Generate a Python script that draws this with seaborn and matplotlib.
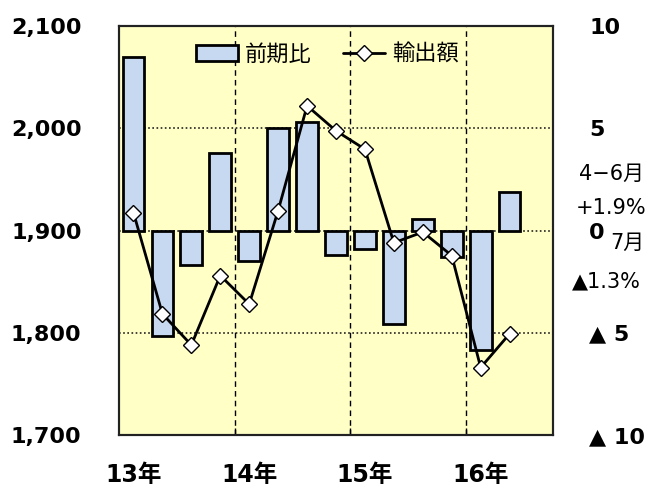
import pandas as pd
import matplotlib
matplotlib.use("Agg")
import matplotlib.pyplot as plt
import seaborn as sns
from matplotlib.lines import Line2D
from matplotlib.patches import Patch

# quarterly data, Heisei 13 Q1 .. 16 Q2
quarters = ["13Q1", "13Q2", "13Q3", "13Q4",
            "14Q1", "14Q2", "14Q3", "14Q4",
            "15Q1", "15Q2", "15Q3", "15Q4",
            "16Q1", "16Q2"]
change_pct = [8.5, -5.15, -1.7, 3.8, -1.5, 5.0, 5.3, -1.2, -0.9, -4.55, 0.55, -1.3, -5.85, 1.9]
exports = [1917.5, 1818.5, 1788, 1856, 1828, 1919.5, 2022, 1997.5, 1979.5, 1888, 1898.5, 1875.5, 1766, 1799]

year_labels = ["13年", "14年", "15年", "16年"]
left_ticks = [1700, 1800, 1900, 2000, 2100]
right_ticks = [-10, -5, 0, 5, 10]
right_tick_labels = ["▲ 10", "▲ 5", "0", "5", "10"]

sns.set_style("white")
plt.rcParams["font.family"] = ["DejaVu Sans", "Noto Sans CJK JP"]
plt.rcParams["text.color"] = "black"
plt.rcParams["xtick.color"] = "black"
plt.rcParams["ytick.color"] = "black"

df = pd.DataFrame({"quarter": quarters, "change": change_pct,
                   "pos": range(len(quarters)), "exports": exports})

fig = plt.figure(figsize=(6.55, 4.93), dpi=100)
ax = fig.add_axes([0.1817, 0.1176, 0.6626, 0.8296])
ax.set_facecolor("#FFFFC6")

# bars (right axis, %)
sns.barplot(data=df, x="quarter", y="change", ax=ax, color="#C6D9F1",
            edgecolor="black", linewidth=2, width=0.75, saturation=1, zorder=2)
ax.set_ylim(-10, 10)
ax.set_xlim(-0.5, 14.5)
ax.set_yticks(right_ticks)
ax.set_yticklabels(right_tick_labels, fontsize=16, fontweight="bold")
ax.grid(axis="y", linestyle=(0, (1, 1.5)), color="#222222", linewidth=1.2, zorder=0)
ax.set_axisbelow(True)
for xv in [3.5, 7.5, 11.5]:
    ax.axvline(xv, color="black", linestyle=(0, (4, 3)), linewidth=1, zorder=1)
ax.set_xticks([0, 4, 8, 12])
ax.set_xticklabels(year_labels, fontsize=17, fontweight="bold")
ax.set_xticks([3.5, 7.5, 11.5], minor=True)
ax.tick_params(axis="x", which="major", length=0, pad=20)
ax.tick_params(axis="x", which="minor", direction="in", length=5, width=1, bottom=True)
ax.set_xlabel("")
ax.set_ylabel("")

# line (left axis, export amount)
ax2 = ax.twinx()
sns.lineplot(data=df, x="pos", y="exports", ax=ax2, color="black", linewidth=2,
             marker="D", markersize=8, markerfacecolor="white",
             markeredgecolor="black", markeredgewidth=1, zorder=3)
ax2.set_ylim(1700, 2100)
ax2.set_xlim(-0.5, 14.5)
ax2.set_yticks(left_ticks)
ax2.set_yticklabels([f"{v:,}" for v in left_ticks], fontsize=16, fontweight="bold")
ax2.set_ylabel("")
ax2.set_xlabel("")

ax.yaxis.tick_right()
ax2.yaxis.tick_left()
ax.tick_params(axis="y", length=0, pad=26, labelcolor="black")
ax2.tick_params(axis="y", length=0, pad=27, labelcolor="black")
ax.tick_params(axis="x", labelcolor="black")

for a in (ax, ax2):
    for s in a.spines.values():
        s.set_color("#222222")
        s.set_linewidth(1.5)

handles = [Patch(facecolor="#C6D9F1", edgecolor="black", linewidth=2),
           Line2D([], [], color="black", linewidth=2, marker="D", markersize=8,
                  markerfacecolor="white", markeredgecolor="black")]
ax2.legend(handles, ["前期比", "輸出額"], loc="upper center", bbox_to_anchor=(0.48, 1.0),
           ncol=2, frameon=False, fontsize=16, handlelength=1.9, handleheight=0.7,
           columnspacing=1.4, handletextpad=0.3, borderaxespad=0.4, labelcolor="black")

# side notes
fig.text(611 / 655, 1 - 174 / 493, "4−6月", fontsize=15, ha="center", va="center")
fig.text(611 / 655, 1 - 208 / 493, "+1.9%", fontsize=15, ha="center", va="center")
fig.text(627 / 655, 1 - 243 / 493, "7月", fontsize=15, ha="center", va="center")
fig.text(606 / 655, 1 - 281 / 493, "▲1.3%", fontsize=15, ha="center", va="center")

fig.savefig("out.png", dpi=100)
